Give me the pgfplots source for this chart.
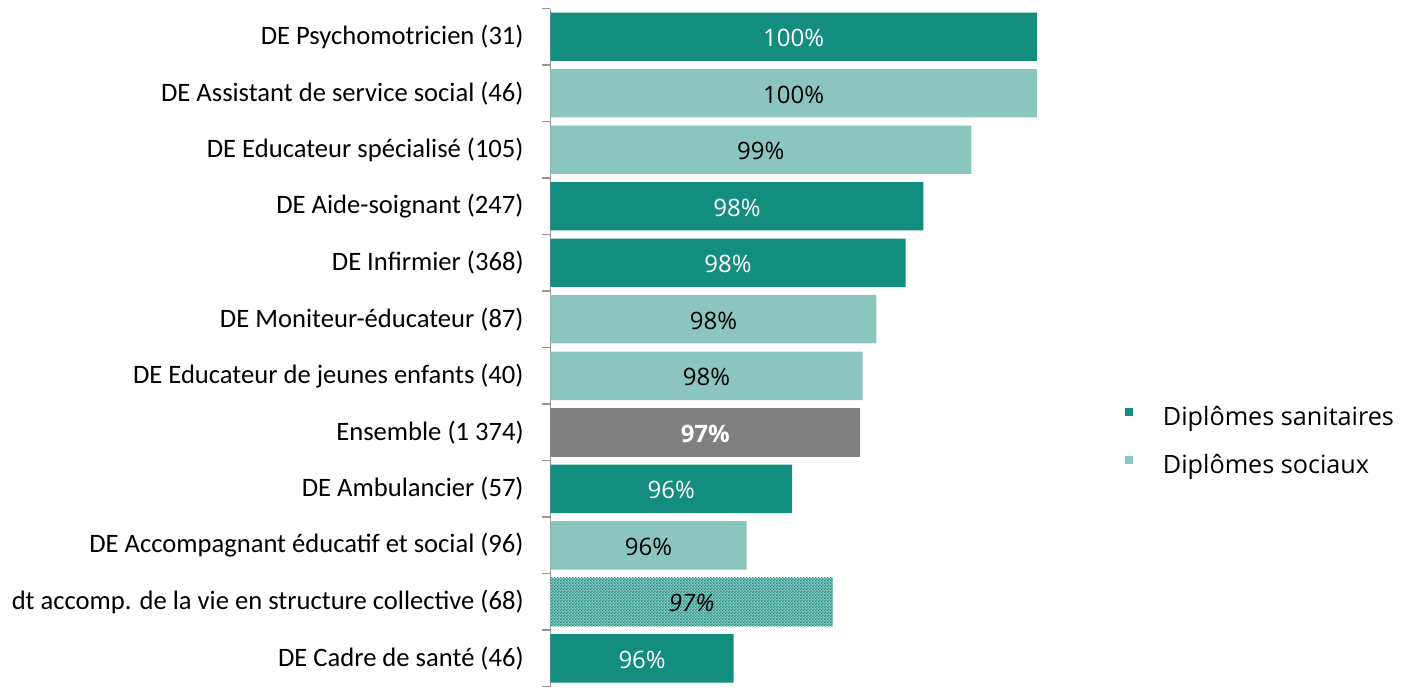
\documentclass[border=0pt]{standalone}
\usepackage{fontspec}
\setmainfont{Carlito}
\newfontfamily\legfont{Open Sans}
\usepackage{pgfplots}
\pgfplotsset{compat=1.18}
\usepackage{pgfplotstable}
\usetikzlibrary{patterns.meta}
\definecolor{dark}{RGB}{19,141,128}
\definecolor{light}{RGB}{138,198,190}
\definecolor{ens}{RGB}{128,128,128}
\definecolor{axgray}{RGB}{150,150,150}

\tikzdeclarepattern{
  name=checker,
  type=uncolored,
  bottom left={(0pt,0pt)},
  top right={(1.4pt,1.4pt)},
  tile size={(1.4pt,1.4pt)},
  code={
    \pgfpathrectangle{\pgfpointorigin}{\pgfpoint{0.7pt}{0.7pt}}
    \pgfpathrectangle{\pgfpoint{0.7pt}{0.7pt}}{\pgfpoint{0.7pt}{0.7pt}}
    \pgfusepath{fill}
  }
}

\pgfplotstableread{
y v lab
0 100.00 100
3 98.60 98
4 98.38 98
8 96.98 96
11 96.26 96
}\darkT
\pgfplotstableread{
y v lab
1 100.00 100
2 99.19 99
5 98.02 98
6 97.85 98
9 96.42 96
}\lightT
\pgfplotstableread{
y v lab
7 97.82 97
}\ensT
\pgfplotstableread{
y v lab
10 97.48 97
}\hatchT

\begin{document}
\begin{tikzpicture}
\useasboundingbox (-275.25pt,-0.25pt) rectangle (425.25pt,343.25pt);
\begin{axis}[
  scale only axis,
  width=243.25pt, height=339pt,
  xmin=94, xmax=100, ymin=-0.5, ymax=11.5,
  y dir=reverse,
  axis x line=none,
  axis y line*=left,
  y axis line style={draw=axgray, line width=0.9pt},
  ytick={0,...,11},
  yticklabels={
    DE Psychomotricien (31),
    DE Assistant de service social (46),
    DE Educateur spécialisé (105),
    DE Aide-soignant (247),
    DE Infirmier (368),
    DE Moniteur-éducateur (87),
    DE Educateur de jeunes enfants (40),
    Ensemble (1 374),
    DE Ambulancier (57),
    DE Accompagnant éducatif et social (96),
    dt accomp. de la vie en structure collective (68),
    DE Cadre de santé (46)},
  major tick length=0pt,
  minor ytick={-0.5,0.5,...,11.5},
  minor tick length=4pt,
  tick align=outside,
  minor tick style={draw=axgray, line width=0.9pt},
  yticklabel style={font=\fontsize{13.3}{15}\selectfont, inner sep=0pt, xshift=-13.25pt},
  legend style={at={(1.18,0.362)}, anchor=west, draw=none, fill=none,
    inner sep=0pt, row sep=9pt,
    font=\legfont\fontsize{12.6}{15}\selectfont,
    nodes={inner sep=2pt}},
  legend cell align=left,
  legend image code/.code={\fill[#1] (0pt,0.6pt) rectangle (4pt,4.6pt); \path[draw=none,fill=none] (0pt,0pt) rectangle (17pt,0.1pt);},
]
\addplot[xbar, bar shift=0pt, bar width=0.858, fill=dark, draw=none] table[x=v,y=y]{\darkT};
\addlegendentry{Diplômes sanitaires}
\addplot[xbar, bar shift=0pt, bar width=0.858, fill=light, draw=none] table[x=v,y=y]{\lightT};
\addlegendentry{Diplômes sociaux}
\addplot[xbar, bar shift=0pt, bar width=0.858, fill=ens, draw=none, forget plot] table[x=v,y=y]{\ensT};
\addplot[xbar, bar shift=0pt, bar width=0.858, fill=dark!45!white, draw=none, forget plot,
  postaction={pattern=checker, pattern color=dark}] table[x=v,y=y]{\hatchT};

\addplot[only marks, mark=none, forget plot, point meta=explicit symbolic,
  nodes near coords={\pgfplotspointmeta\%},
  nodes near coords style={anchor=center, yshift=-0.8pt, text=white, font=\legfont\fontsize{12}{14}\selectfont}]
  table[x expr={(\thisrow{v}+94)/2}, y=y, meta=lab]{\darkT};
\addplot[only marks, mark=none, forget plot, point meta=explicit symbolic,
  nodes near coords={\pgfplotspointmeta\%},
  nodes near coords style={anchor=center, yshift=-0.8pt, text=black, font=\legfont\fontsize{12}{14}\selectfont}]
  table[x expr={(\thisrow{v}+94)/2}, y=y, meta=lab]{\lightT};
\addplot[only marks, mark=none, forget plot, point meta=explicit symbolic,
  nodes near coords={\pgfplotspointmeta\%},
  nodes near coords style={anchor=center, yshift=-0.8pt, text=white, font=\legfont\bfseries\fontsize{12}{14}\selectfont}]
  table[x expr={(\thisrow{v}+94)/2}, y=y, meta=lab]{\ensT};
\addplot[only marks, mark=none, forget plot, point meta=explicit symbolic,
  nodes near coords={\pgfplotspointmeta\%},
  nodes near coords style={anchor=center, yshift=-0.8pt, text=black, font=\legfont\itshape\fontsize{12}{14}\selectfont}]
  table[x expr={(\thisrow{v}+94)/2}, y=y, meta=lab]{\hatchT};
\end{axis}
\end{tikzpicture}
\end{document}
